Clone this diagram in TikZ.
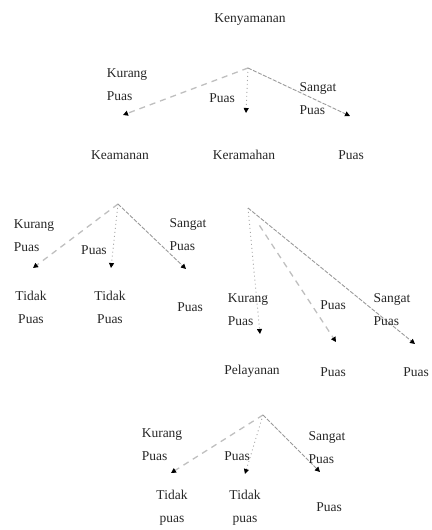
\documentclass[tikz,border=0pt]{standalone}
\usepackage{fontspec}
\setmainfont{Liberation Serif}
\usetikzlibrary{arrows.meta,calc}
\tikzset{
  lbl/.style={font=\fontsize{13.5}{23}\selectfont, align=left, inner sep=0pt, text=black!85},
  leaf/.style={font=\fontsize{13.5}{23}\selectfont, align=center, inner sep=0pt, text=black!85},
  tip/.style={-{Triangle[black,length=5pt,width=5pt]}},
  lndash/.style={tip, draw=black!25, line width=1.3pt, dash pattern=on 6pt off 5pt},
  lndot/.style={tip, draw=black!35, line width=0.9pt, dash pattern=on 1pt off 3pt},
  lnsolid/.style={tip, draw=black!40, line width=0.9pt, dash pattern=on 4pt off 1.5pt},
}
\begin{document}
\begin{tikzpicture}[x=1pt,y=-1pt]
\useasboundingbox (0,0) rectangle (431,530);
% ---- level 1
\node[leaf] (root) at (250,20) {Kenyamanan};
\coordinate (b0) at (248,68);
\coordinate (t01) at (123,115);
\coordinate (t02) at (246,113);
\coordinate (t03) at (350,116);
\draw[lndash] (b0) -- (t01);
\draw[lndot] (b0) -- (t02);
\draw[lnsolid] (b0) -- (t03);
\node[lbl] (l01) at (127,85) {Kurang\\Puas};
\node[lbl] (l02) at (222,98) {Puas};
\node[lbl] (l03) at (318,99) {Sangat\\Puas};
\node[leaf] (c1) at (120,155) {Keamanan};
\node[leaf] (c2) at (244,155) {Keramahan};
\node[leaf] (c3) at (351,155) {Puas};
% ---- level 2 left
\coordinate (b1) at (118,204);
\coordinate (t11) at (33,268);
\coordinate (t12) at (111,268);
\coordinate (t13) at (186,269);
\draw[lndash] (b1) -- (t11);
\draw[lndot] (b1) -- (t12);
\draw[lnsolid] (b1) -- (t13);
\node[lbl] (l11) at (34,236) {Kurang\\Puas};
\node[lbl] (l12) at (94,250) {Puas};
\node[lbl] (l13) at (188,235) {Sangat\\Puas};
\node[leaf] (c11) at (31,307) {Tidak\\Puas};
\node[leaf] (c12) at (110,307) {Tidak\\Puas};
\node[leaf] (c13) at (190,307) {Puas};
% ---- level 2 right
\coordinate (b2) at (248,208);
\coordinate (t21) at (260,334);
\coordinate (t22) at (336,342);
\coordinate (t23) at (415,344);
\draw[lndot] (b2) -- (t21);
\draw[lndash] ($(b2)!0.13!(t22)$) -- (t22);
\draw[lnsolid] (b2) -- (t23);
\node[lbl] (l21) at (248,310) {Kurang\\Puas};
\node[lbl] (l22) at (333,305) {Puas};
\node[lbl] (l23) at (392,310) {Sangat\\Puas};
\node[leaf] (c21) at (252,371) {Pelayanan};
\node[leaf] (c22) at (333,372) {Puas};
\node[leaf] (c23) at (416,372) {Puas};
% ---- level 3
\coordinate (b3) at (263,415);
\coordinate (t31) at (171,473);
\coordinate (t32) at (245,474);
\coordinate (t33) at (320,472);
\draw[lndash] (b3) -- (t31);
\draw[lndot] (b3) -- (t32);
\draw[lnsolid] (b3) -- (t33);
\node[lbl] (l31) at (162,445) {Kurang\\Puas};
\node[lbl] (l32) at (237,456) {Puas};
\node[lbl] (l33) at (327,448) {Sangat\\Puas};
\node[leaf] (c31) at (172,508) {Tidak\\puas};
\node[leaf] (c32) at (245,508) {Tidak\\puas};
\node[leaf] (c33) at (329,507) {Puas};
\end{tikzpicture}
\end{document}
